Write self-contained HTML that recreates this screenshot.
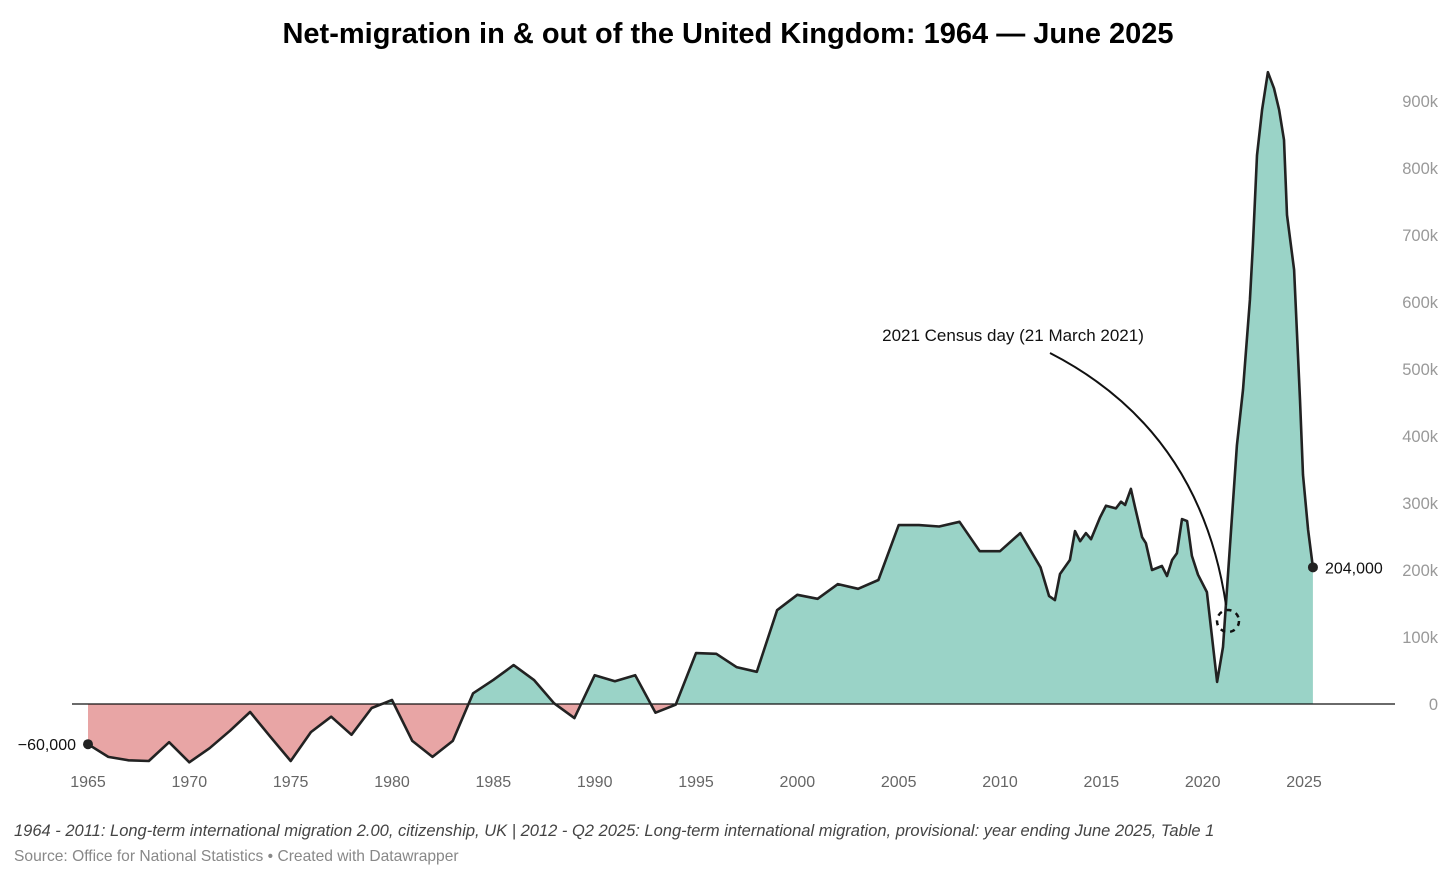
<!DOCTYPE html>
<html><head><meta charset="utf-8"><style>
html,body{margin:0;padding:0;background:#fff;width:1456px;height:881px;overflow:hidden;font-family:"Liberation Sans",sans-serif;}
</style></head><body>
<svg id="chart" width="1456" height="881" xmlns="http://www.w3.org/2000/svg">
<text x="728" y="43" text-anchor="middle" font-size="29" font-weight="bold" fill="#000">Net-migration in &amp; out of the United Kingdom: 1964 — June 2025</text>
<g id="yaxis"></g>
<g id="xaxis"></g>
<g id="plot"></g>
<text x="1013" y="341" text-anchor="middle" font-size="17" fill="#111">2021 Census day (21 March 2021)</text>
<path d="M1050,353 Q1200,430 1226,605" fill="none" stroke="#111" stroke-width="2"/>
<circle cx="1228" cy="621" r="11" fill="none" stroke="#111" stroke-width="2.5" stroke-dasharray="5,5"/>
<text x="14" y="836" font-size="16.5" font-style="italic" fill="#444">1964 - 2011: Long-term international migration 2.00, citizenship, UK | 2012 - Q2 2025: Long-term international migration, provisional: year ending June 2025, Table 1</text>
<text x="14" y="861" font-size="15.6" fill="#888">Source: Office for National Statistics • Created with Datawrapper</text>
</svg>
<script>
const years=[1965,1966,1967,1968,1969,1970,1971,1972,1973,1974,1975,1976,1977,1978,1979,1980,1981,1982,1983,1984,1985,1986,1987,1988,1989,1990,1991,1992,1993,1994,1995,1996,1997,1998,1999,2000,2001,2002,2003,2004,2005,2006,2007,2008,2009,2010,2011,
2012,2012.42,2012.71,2012.96,2013.45,2013.7,2013.95,2014.24,2014.49,2014.93,2015.23,2015.72,2015.97,2016.17,2016.46,2016.66,2017.01,2017.2,2017.5,2017.99,2018.24,2018.49,2018.73,2018.98,2019.23,2019.47,2019.77,2020.21,2020.71,2021,2021.69,2021.99,2022.33,2022.48,2022.68,2022.93,2023.22,2023.52,2023.77,2024.01,2024.16,2024.51,2024.8,2024.95,2025.2,2025.44];
const values=[-60,-79,-84,-85,-57,-87,-66,-40,-12,-49,-85,-42,-19,-46,-6,6,-55,-79,-55,16,36,58,36,1,-21,43,34,43,-13,-1,76,75,55,48,140,163,157,179,172,185,267,267,265,272,228,228,255,
204,161,155,194,215,258,243,255,246,278,296,292,302,297,321,294,249,240,200,206,191,215,225,276,273,221,193,167,33,85,386,469,603,685,819,887,943,919,887,842,730,648,454,342,260,204];
const yTicks=[0,100,200,300,400,500,600,700,800,900];
const xTicks=[1965,1970,1975,1980,1985,1990,1995,2000,2005,2010,2015,2020,2025];
const NS="http://www.w3.org/2000/svg";
const X=y=>88+(y-1965)*20.267;
const Y=v=>704-v*0.67;
function mk(t,a,p){const e=document.createElementNS(NS,t);for(const k in a)e.setAttribute(k,a[k]);p.appendChild(e);return e;}
const yax=document.getElementById('yaxis'),xax=document.getElementById('xaxis'),plot=document.getElementById('plot');
yTicks.forEach(v=>{const t=mk('text',{x:1438,y:Y(v)+6,'text-anchor':'end','font-size':16.5,fill:'#999'},yax);


t.textContent=v===0?'0':v+'k';});
xTicks.forEach(v=>{const t=mk('text',{x:X(v),y:787,'text-anchor':'middle','font-size':16,fill:'#666'},xax);


t.textContent=v;});
const defs=mk('defs',{},plot);
const c1=mk('clipPath',{id:'pos'},defs);mk('rect',{x:0,y:0,width:1456,height:Y(0)},c1);
const c2=mk('clipPath',{id:'neg'},defs);mk('rect',{x:0,y:Y(0),width:1456,height:200},c2);
let line='';years.forEach((y,i)=>{line+=(i?'L':'M')+X(y).toFixed(1)+','+Y(values[i]).toFixed(1);});
const area=line+'L'+X(years[years.length-1]).toFixed(1)+','+Y(0)+'L'+X(years[0]).toFixed(1)+','+Y(0)+'Z';
const ap=mk('path',{d:area,fill:'#9ad3c7','clip-path':'url(#pos)'},plot);


const an=mk('path',{d:area,fill:'#e8a5a5','clip-path':'url(#neg)'},plot);


const zl=mk('line',{x1:72,x2:1395,y1:Y(0),y2:Y(0),stroke:'#111','stroke-width':1.3},plot);


const lp=mk('path',{d:line,fill:'none',stroke:'#222','stroke-width':2.6,'stroke-linejoin':'round'},plot);


const n=years.length-1;
const d1=mk('circle',{cx:X(years[0]),cy:Y(values[0]),r:5,fill:'#222'},plot);


const d2=mk('circle',{cx:X(years[n]),cy:Y(values[n]),r:5,fill:'#222'},plot);


const l1=mk('text',{x:X(years[0])-12,y:Y(values[0])+6,'text-anchor':'end','font-size':16,fill:'#111'},plot);


l1.textContent='−'+Math.abs(values[0]).toLocaleString('en-US')+',000';
const l2=mk('text',{x:X(years[n])+12,y:Y(values[n])+6,'font-size':16,fill:'#111'},plot);


l2.textContent=values[n]+',000';
</script>
</body></html>
